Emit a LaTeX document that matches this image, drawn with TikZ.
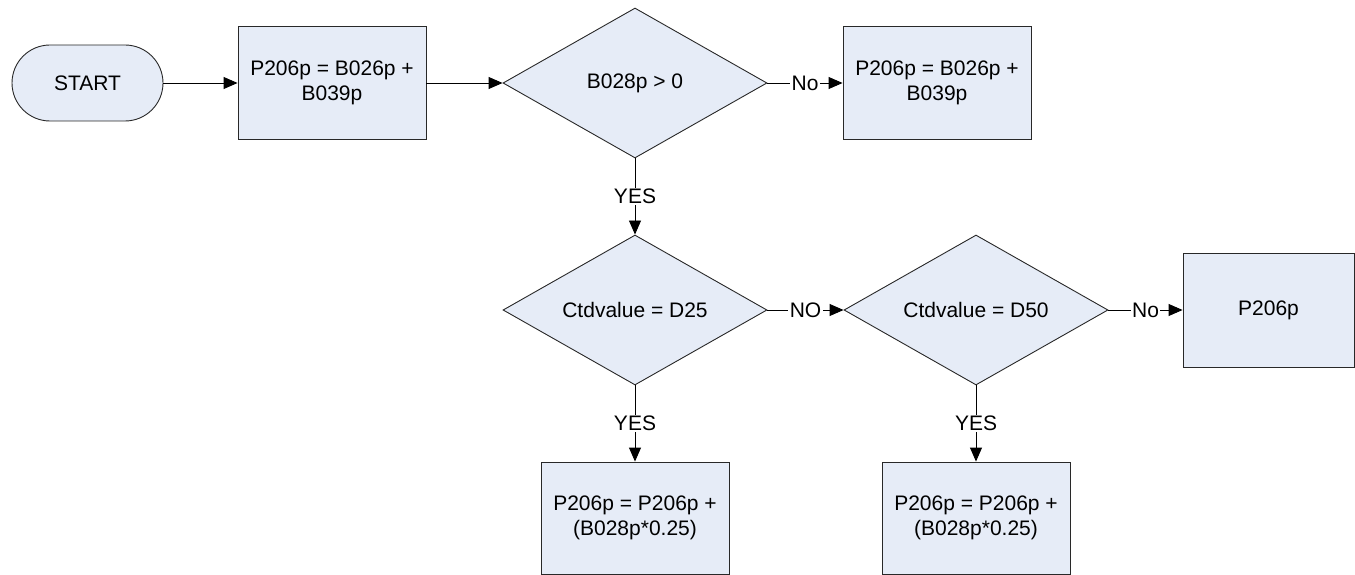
\documentclass[tikz,border=0pt]{standalone}
\usepackage{fontspec}
\setmainfont{Liberation Sans}
\usetikzlibrary{shapes.geometric, arrows.meta, positioning}
\definecolor{boxfill}{RGB}{230,236,247}
\definecolor{boxline}{RGB}{40,40,40}

\begin{document}
\begin{tikzpicture}[x=1pt, y=-1pt,
    every node/.style={font=\fontsize{21}{25}\selectfont},
    base/.style={draw=boxline, fill=boxfill, line width=0.9pt, inner sep=0pt, align=center},
    startstop/.style={base, rectangle, rounded corners=38pt, minimum width=151pt, minimum height=76pt},
    process/.style={base, rectangle, minimum width=188pt, minimum height=113pt},
    decision/.style={base, diamond, aspect=1.76, minimum width=264pt, minimum height=150pt},
    arrow/.style={-{Triangle[length=14pt,width=12pt]}, line width=0.9pt},
    lbl/.style={fill=white, inner sep=1.5pt}
]
    \useasboundingbox (0,0) rectangle (1355,575);

    % top row
    \node[startstop] (start) at (87.5,83) {START};
    \node[process] (calc1) at (332,83) {P206p = B026p +\\B039p};
    \node[decision] (chk0) at (635,83) {B028p > 0};
    \node[process] (calc2) at (937,83) {P206p = B026p +\\B039p};

    % middle row
    \node[decision] (chk25) at (635,310) {Ctdvalue = D25};
    \node[decision] (chk50) at (976,310) {Ctdvalue = D50};
    \node[process, minimum width=171pt, minimum height=114pt] (out) at (1268.5,310) {P206p};

    % bottom row
    \node[process, minimum height=112pt] (add25) at (635,518) {P206p = P206p +\\(B028p*0.25)};
    \node[process, minimum height=112pt] (add50) at (976,518) {P206p = P206p +\\(B028p*0.25)};

    % connectors
    \draw[arrow] (start) -- (calc1);
    \draw[arrow] (calc1) -- (chk0);
    \draw[arrow] (chk0) -- node[lbl] {No} (calc2);
    \draw[arrow] (chk0) -- node[lbl] {YES} (chk25);
    \draw[arrow] (chk25) -- node[lbl] {NO} (chk50);
    \draw[arrow] (chk50) -- node[lbl] {No} (out);
    \draw[arrow] (chk25) -- node[lbl] {YES} (add25);
    \draw[arrow] (chk50) -- node[lbl] {YES} (add50);
\end{tikzpicture}
\end{document}
